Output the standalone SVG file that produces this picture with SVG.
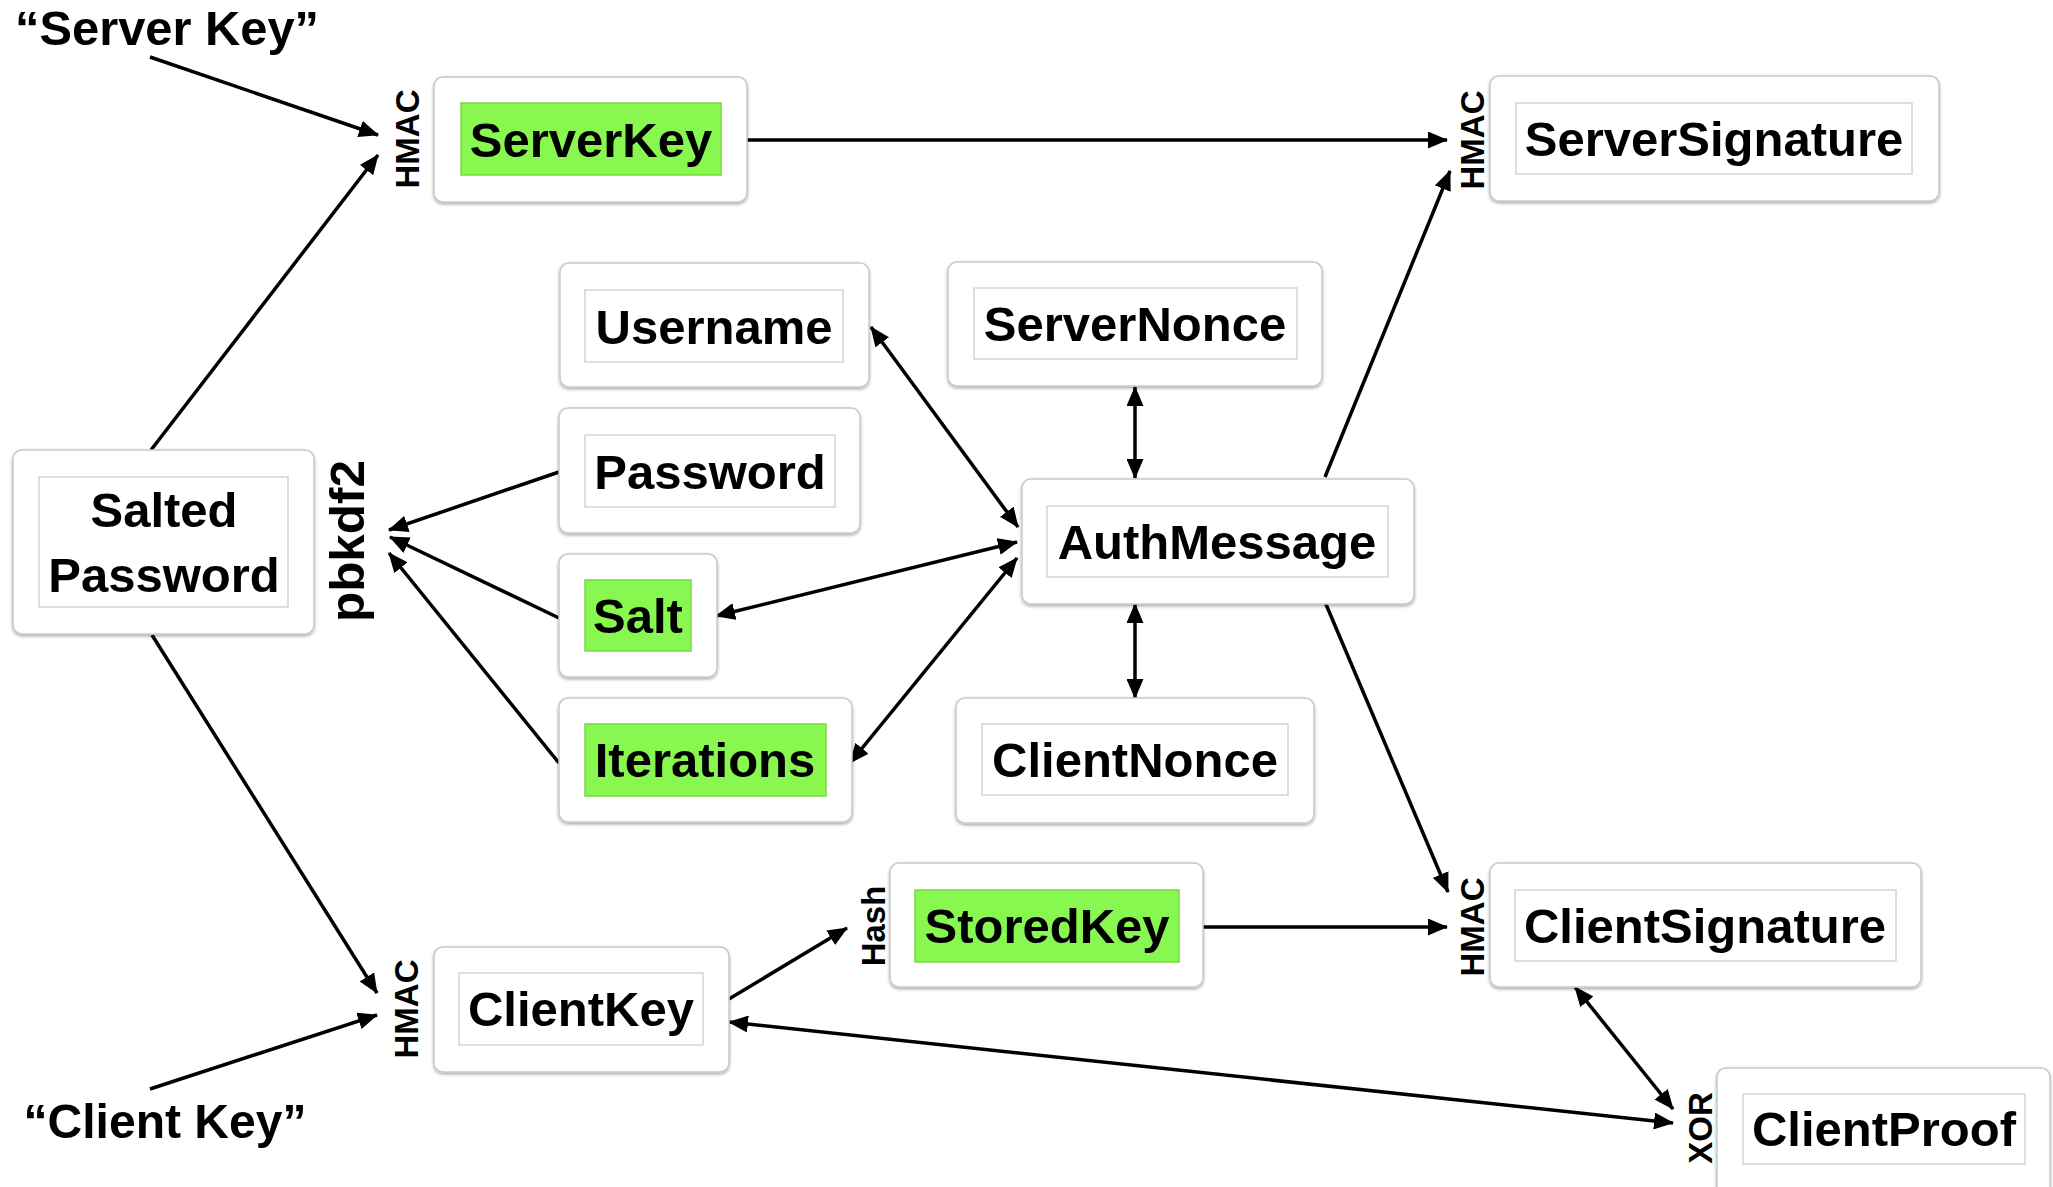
<svg xmlns="http://www.w3.org/2000/svg" width="2053" height="1187" viewBox="0 0 2053 1187">
<defs>
<filter id="sh" x="-10%" y="-10%" width="120%" height="130%">
<feDropShadow dx="0" dy="1.5" stdDeviation="1.8" flood-color="#000" flood-opacity="0.35"/>
</filter>
<marker id="ah" viewBox="0 0 20 17" refX="19" refY="8.5" markerWidth="20" markerHeight="17" markerUnits="userSpaceOnUse" orient="auto-start-reverse">
<path d="M0,0 L20,8.5 L0,17 z" fill="#000"/>
</marker>
</defs>
<style>
.outer{fill:#fff;stroke:#c9c9c9;stroke-width:1.5;filter:url(#sh)}
.inner{fill:#fff;stroke:#d4d4d4;stroke-width:1.5}
.green{fill:#88f750;stroke:#78d845;stroke-width:1.5}
.t{font-family:"Liberation Sans",Arial,Helvetica,sans-serif;font-weight:bold;font-size:49px;fill:#000;text-anchor:middle}
.op{font-family:"Liberation Sans",Arial,Helvetica,sans-serif;font-weight:bold;font-size:33px;fill:#000;text-anchor:middle}
.c{stroke:#000;stroke-width:3.5;fill:none}
.a{marker-end:url(#ah)}
.b{marker-start:url(#ah);marker-end:url(#ah)}
</style>
<rect width="2053" height="1187" fill="#fff"/>

<g id="connectors">
<line class="c a" x1="150" y1="57" x2="378" y2="135"/>
<line class="c a" x1="151" y1="450" x2="378" y2="155"/>
<line class="c a" x1="152" y1="635" x2="377" y2="993"/>
<line class="c a" x1="150" y1="1089" x2="377" y2="1015"/>
<line class="c a" x1="747" y1="140" x2="1447" y2="140"/>
<line class="c a" x1="1325" y1="477" x2="1450" y2="171"/>
<line class="c a" x1="1325" y1="602" x2="1448" y2="892"/>
<line class="c b" x1="871" y1="327" x2="1018" y2="527"/>
<line class="c b" x1="1135" y1="387" x2="1135" y2="478"/>
<line class="c b" x1="716" y1="616" x2="1017" y2="542"/>
<line class="c b" x1="850" y1="763" x2="1017" y2="558"/>
<line class="c b" x1="1135" y1="698" x2="1135" y2="604"/>
<line class="c a" x1="559" y1="472" x2="389" y2="530"/>
<line class="c a" x1="559" y1="618" x2="390" y2="537"/>
<line class="c a" x1="559" y1="763" x2="389" y2="553"/>
<line class="c a" x1="729" y1="999" x2="847" y2="928"/>
<line class="c a" x1="1203" y1="927" x2="1447" y2="927"/>
<line class="c b" x1="1575" y1="987" x2="1673" y2="1109"/>
<line class="c b" x1="729" y1="1022" x2="1673" y2="1123"/>
</g>

<g id="label-server-key"><text class="t" x="167" y="45" textLength="304" lengthAdjust="spacingAndGlyphs" font-size="43">“Server Key”</text></g>
<g id="label-client-key"><text class="t" x="165" y="1138" textLength="283" lengthAdjust="spacingAndGlyphs" font-size="43">“Client Key”</text></g>

<g id="op-hmac-serverkey"><text class="op" transform="translate(419,139) rotate(-90)">HMAC</text></g>
<g id="op-hmac-serversig"><text class="op" transform="translate(1484,140) rotate(-90)">HMAC</text></g>
<g id="op-hmac-clientsig"><text class="op" transform="translate(1484,927) rotate(-90)">HMAC</text></g>
<g id="op-hmac-clientkey"><text class="op" transform="translate(418,1009) rotate(-90)">HMAC</text></g>
<g id="op-hash"><text class="op" transform="translate(885,926) rotate(-90)">Hash</text></g>
<g id="op-xor"><text class="op" transform="translate(1712,1128) rotate(-90)">XOR</text></g>
<g id="op-pbkdf2"><text class="t" transform="translate(364,541) rotate(-90)" font-size="46" textLength="162" lengthAdjust="spacingAndGlyphs">pbkdf2</text></g>

<g id="node-serverkey">
<rect class="outer" x="434" y="77" width="313" height="125" rx="9"/>
<rect class="green" x="461" y="103" width="260" height="72"/>
<text class="t" x="591" y="157">ServerKey</text>
</g>
<g id="node-serversignature">
<rect class="outer" x="1490" y="76" width="449" height="125" rx="9"/>
<rect class="inner" x="1516" y="103" width="396" height="71"/>
<text class="t" x="1714" y="156">ServerSignature</text>
</g>
<g id="node-username">
<rect class="outer" x="560" y="263" width="309" height="124" rx="9"/>
<rect class="inner" x="585" y="290" width="258" height="72"/>
<text class="t" x="714" y="344">Username</text>
</g>
<g id="node-servernonce">
<rect class="outer" x="948" y="262" width="374" height="124" rx="9"/>
<rect class="inner" x="974" y="288" width="323" height="71"/>
<text class="t" x="1135" y="341">ServerNonce</text>
</g>
<g id="node-password">
<rect class="outer" x="559" y="408" width="301" height="125" rx="9"/>
<rect class="inner" x="585" y="435" width="250" height="72"/>
<text class="t" x="710" y="489">Password</text>
</g>
<g id="node-saltedpassword">
<rect class="outer" x="13" y="450" width="301" height="184" rx="9"/>
<rect class="inner" x="39" y="477" width="249" height="130"/>
<text class="t" x="164" y="527">Salted</text>
<text class="t" x="164" y="592">Password</text>
</g>
<g id="node-authmessage">
<rect class="outer" x="1022" y="479" width="392" height="125" rx="9"/>
<rect class="inner" x="1047" y="506" width="341" height="71"/>
<text class="t" x="1217" y="559">AuthMessage</text>
</g>
<g id="node-salt">
<rect class="outer" x="559" y="554" width="158" height="123" rx="9"/>
<rect class="green" x="585" y="580" width="106" height="71"/>
<text class="t" x="638" y="633">Salt</text>
</g>
<g id="node-iterations">
<rect class="outer" x="559" y="698" width="293" height="124" rx="9"/>
<rect class="green" x="585" y="724" width="241" height="72"/>
<text class="t" x="705" y="777">Iterations</text>
</g>
<g id="node-clientnonce">
<rect class="outer" x="956" y="698" width="358" height="125" rx="9"/>
<rect class="inner" x="982" y="724" width="306" height="71"/>
<text class="t" x="1135" y="777">ClientNonce</text>
</g>
<g id="node-storedkey">
<rect class="outer" x="890" y="863" width="313" height="124" rx="9"/>
<rect class="green" x="915" y="890" width="264" height="72"/>
<text class="t" x="1047" y="943">StoredKey</text>
</g>
<g id="node-clientsignature">
<rect class="outer" x="1490" y="863" width="431" height="124" rx="9"/>
<rect class="inner" x="1515" y="890" width="381" height="71"/>
<text class="t" x="1705" y="943">ClientSignature</text>
</g>
<g id="node-clientkey">
<rect class="outer" x="434" y="947" width="295" height="125" rx="9"/>
<rect class="inner" x="459" y="973" width="244" height="72"/>
<text class="t" x="581" y="1026">ClientKey</text>
</g>
<g id="node-clientproof">
<rect class="outer" x="1717" y="1068" width="333" height="135" rx="9"/>
<rect class="inner" x="1743" y="1094" width="282" height="70"/>
<text class="t" x="1884" y="1146">ClientProof</text>
</g>
</svg>
